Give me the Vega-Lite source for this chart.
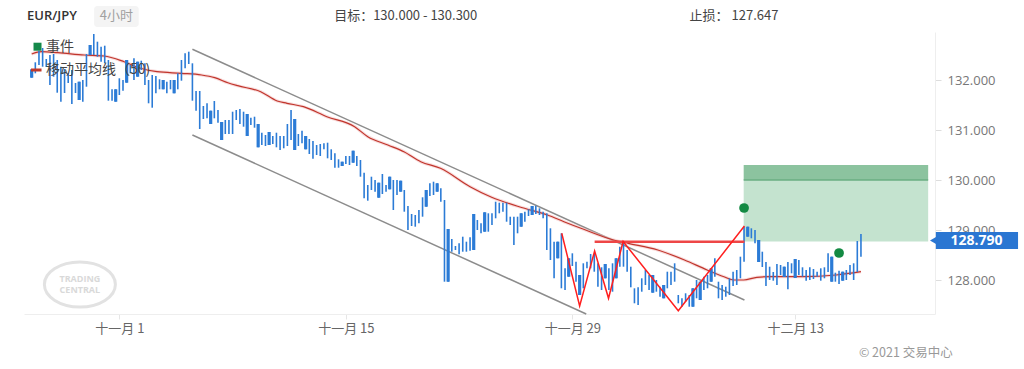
{
"$schema":"https://vega.github.io/schema/vega-lite/v6.json",
"width":911,"height":282,
"autosize":{"type":"none"},
"padding":{"left":24,"top":32,"right":89,"bottom":55},
"background":"#ffffff",
"config":{"view":{"stroke":null},"text":{"font":"Noto Sans CJK SC"}},
"data":{"values":[{}]},
"datasets":{
"bars":[
{"i":0,"h":132.214,"l":132.046,"o":132.214,"c":132.046},{"i":1,"h":132.354,"l":132.134},{"i":2,"h":132.586,"l":132.3},{"i":3,"h":132.64,"l":132.266},{"i":4,"h":132.42,"l":132.26},{"i":5,"h":132.5,"l":131.9},{"i":6,"h":132.52,"l":132.066},{"i":7,"h":132.4,"l":131.746},{"i":8,"h":132.266,"l":131.566},{"i":9,"h":132.22,"l":131.74},
{"i":10,"h":132.14,"l":131.94},{"i":11,"h":132.2,"l":131.52},{"i":12,"h":131.94,"l":131.74},{"i":13,"h":131.966,"l":131.6,"o":131.966,"c":131.6},{"i":14,"h":132.0,"l":131.566},{"i":15,"h":132.52,"l":131.866},{"i":16,"h":132.7,"l":132.5,"o":132.5,"c":132.7},{"i":17,"h":132.92,"l":132.5},{"i":18,"h":132.766,"l":132.466},{"i":19,"h":132.666,"l":132.366},
{"i":20,"h":132.686,"l":132.334},{"i":21,"h":132.4,"l":131.586},{"i":22,"h":131.814,"l":131.586},{"i":23,"h":131.814,"l":131.566,"o":131.566,"c":131.814},{"i":24,"h":132.034,"l":131.7},{"i":25,"h":132.0,"l":131.786},{"i":26,"h":132.4,"l":131.946,"o":131.946,"c":132.4},{"i":27,"h":132.3,"l":132.134},{"i":28,"h":132.434,"l":132.0},{"i":29,"h":132.366,"l":132.066,"o":132.366,"c":132.066},
{"i":30,"h":132.386,"l":132.2},{"i":31,"h":132.334,"l":131.9},{"i":32,"h":132.0,"l":131.534},{"i":33,"h":132.1,"l":131.446},{"i":34,"h":132.08,"l":131.734},{"i":35,"h":132.014,"l":131.814},{"i":36,"h":132.0,"l":131.814,"o":132.0,"c":131.814},{"i":37,"h":131.966,"l":131.734},{"i":38,"h":132.0,"l":131.814},{"i":39,"h":132.0,"l":131.734,"o":131.734,"c":132.0},
{"i":40,"h":132.134,"l":131.814},{"i":41,"h":132.4,"l":131.986},{"i":42,"h":132.534,"l":132.234},{"i":43,"h":132.566,"l":132.32},{"i":44,"h":132.334,"l":131.586},{"i":45,"h":131.78,"l":131.386},{"i":46,"h":131.78,"l":131.02},{"i":47,"h":131.48,"l":131.22},{"i":48,"h":131.534,"l":131.234},{"i":49,"h":131.386,"l":131.12,"o":131.386,"c":131.12},
{"i":50,"h":131.58,"l":131.234},{"i":51,"h":131.4,"l":131.146},{"i":52,"h":131.16,"l":130.8,"o":131.16,"c":130.8},{"i":53,"h":131.2,"l":130.92},{"i":54,"h":131.2,"l":130.92},{"i":55,"h":131.366,"l":130.92},{"i":56,"h":131.4,"l":131.2},{"i":57,"h":131.42,"l":131.12},{"i":58,"h":131.366,"l":131.066},{"i":59,"h":131.32,"l":130.88,"o":131.32,"c":130.88},
{"i":60,"h":131.246,"l":131.1},{"i":61,"h":131.266,"l":131.046},{"i":62,"h":131.12,"l":130.654,"o":131.12,"c":130.654},{"i":63,"h":130.946,"l":130.7},{"i":64,"h":130.9,"l":130.68},{"i":65,"h":130.96,"l":130.7,"o":130.7,"c":130.96},{"i":66,"h":130.88,"l":130.72},{"i":67,"h":130.946,"l":130.654},{"i":68,"h":130.88,"l":130.6},{"i":69,"h":130.88,"l":130.634},
{"i":70,"h":131.12,"l":130.68},{"i":71,"h":131.4,"l":130.8},{"i":72,"h":131.22,"l":130.6,"o":131.22,"c":130.6},{"i":73,"h":130.92,"l":130.68},{"i":74,"h":130.986,"l":130.734},{"i":75,"h":130.88,"l":130.614,"o":130.88,"c":130.614},{"i":76,"h":130.82,"l":130.52},{"i":77,"h":130.78,"l":130.426},{"i":78,"h":130.7,"l":130.5},{"i":79,"h":130.72,"l":130.48},
{"i":80,"h":130.734,"l":130.614},{"i":81,"h":130.746,"l":130.434},{"i":82,"h":130.614,"l":130.4},{"i":83,"h":130.534,"l":130.246},{"i":84,"h":130.414,"l":130.246},{"i":85,"h":130.366,"l":130.28,"o":130.366,"c":130.28},{"i":86,"h":130.48,"l":130.32},{"i":87,"h":130.48,"l":130.3},{"i":88,"h":130.586,"l":130.346,"o":130.346,"c":130.586},{"i":89,"h":130.48,"l":130.28},
{"i":90,"h":130.4,"l":130.066},{"i":91,"h":130.146,"l":129.634},{"i":92,"h":129.9,"l":129.586},{"i":93,"h":130.066,"l":129.8},{"i":94,"h":130.0,"l":129.766},{"i":95,"h":129.946,"l":129.646,"o":129.946,"c":129.646},{"i":96,"h":130.12,"l":129.72},{"i":97,"h":129.9,"l":129.766},{"i":98,"h":130.066,"l":129.814,"o":129.814,"c":130.066},{"i":99,"h":130.0,"l":129.4},
{"i":100,"h":130.0,"l":129.7},{"i":101,"h":129.986,"l":129.766,"o":129.986,"c":129.766},{"i":102,"h":129.8,"l":129.366},{"i":103,"h":129.48,"l":129.0},{"i":104,"h":129.32,"l":129.08},{"i":105,"h":129.3,"l":129.066},{"i":106,"h":129.4,"l":129.134},{"i":107,"h":129.654,"l":129.266},{"i":108,"h":129.8,"l":129.466,"o":129.466,"c":129.8},{"i":109,"h":129.934,"l":129.68},
{"i":110,"h":129.966,"l":129.7},{"i":111,"h":129.934,"l":129.766,"o":129.934,"c":129.766},{"i":112,"h":129.834,"l":129.566},{"i":113,"h":129.6,"l":127.966},{"i":114,"h":129.02,"l":127.966,"o":127.966,"c":129.02},{"i":115,"h":128.82,"l":128.566},{"i":116,"h":128.68,"l":128.6},{"i":117,"h":128.734,"l":128.514},{"i":118,"h":128.866,"l":128.566},{"i":119,"h":128.766,"l":128.566},
{"i":120,"h":128.854,"l":128.586},{"i":121,"h":129.32,"l":128.6,"o":128.6,"c":129.32},{"i":122,"h":129.2,"l":129.0},{"i":123,"h":129.134,"l":128.934},{"i":124,"h":129.354,"l":128.966,"o":128.966,"c":129.354},{"i":125,"h":129.334,"l":128.966},{"i":126,"h":129.334,"l":129.1},{"i":127,"h":129.566,"l":129.234},{"i":128,"h":129.546,"l":129.334},{"i":129,"h":129.546,"l":129.366},
{"i":130,"h":129.546,"l":129.166},{"i":131,"h":129.266,"l":129.1},{"i":132,"h":129.266,"l":128.7},{"i":133,"h":129.266,"l":128.934},{"i":134,"h":129.334,"l":129.066,"o":129.066,"c":129.334},{"i":135,"h":129.366,"l":129.166},{"i":136,"h":129.414,"l":129.28},{"i":137,"h":129.48,"l":129.3,"o":129.3,"c":129.48},{"i":138,"h":129.486,"l":129.32},{"i":139,"h":129.434,"l":129.3},
{"i":140,"h":129.366,"l":129.234},{"i":141,"h":129.334,"l":128.6},{"i":142,"h":129.034,"l":128.4},{"i":143,"h":128.766,"l":128.034},{"i":144,"h":128.766,"l":128.434,"o":128.434,"c":128.766},{"i":145,"h":128.934,"l":127.834},{"i":146,"h":128.234,"l":127.8},{"i":147,"h":128.434,"l":128.066,"o":128.066,"c":128.434},{"i":148,"h":128.534,"l":128.28},{"i":149,"h":128.366,"l":127.966},
{"i":150,"h":128.1,"l":127.7,"o":128.1,"c":127.7},{"i":151,"h":128.334,"l":127.834},{"i":152,"h":128.366,"l":128.234},{"i":153,"h":128.52,"l":128.234},{"i":154,"h":128.52,"l":128.166},{"i":155,"h":128.334,"l":127.866},{"i":156,"h":128.254,"l":127.8},{"i":157,"h":128.32,"l":128.034,"o":128.034,"c":128.32},{"i":158,"h":128.234,"l":127.8},{"i":159,"h":128.334,"l":127.766},
{"i":160,"h":128.434,"l":128.034,"o":128.034,"c":128.434},{"i":161,"h":128.666,"l":128.266},{"i":162,"h":128.766,"l":128.266},{"i":163,"h":128.6,"l":128.166},{"i":164,"h":128.266,"l":127.854},{"i":165,"h":127.834,"l":127.534},{"i":166,"h":127.854,"l":127.5},{"i":167,"h":128.034,"l":127.766},{"i":168,"h":128.2,"l":127.9},{"i":169,"h":128.1,"l":127.8},
{"i":170,"h":128.1,"l":127.746,"o":128.1,"c":127.746},{"i":171,"h":128.0,"l":127.766},{"i":172,"h":127.866,"l":127.666},{"i":173,"h":127.9,"l":127.634,"o":127.9,"c":127.634},{"i":174,"h":128.166,"l":127.834},{"i":175,"h":128.166,"l":127.9},{"i":176,"h":128.334,"l":127.966},{"i":177,"h":127.7,"l":127.534},{"i":178,"h":127.634,"l":127.466},{"i":179,"h":127.734,"l":127.566},
{"i":180,"h":127.7,"l":127.466},{"i":181,"h":127.834,"l":127.466,"o":127.466,"c":127.834},{"i":182,"h":128.0,"l":127.634},{"i":183,"h":127.966,"l":127.6,"o":127.6,"c":127.966},{"i":184,"h":128.066,"l":127.8},{"i":185,"h":128.1,"l":127.834},{"i":186,"h":128.234,"l":127.966,"o":127.966,"c":128.234},{"i":187,"h":128.434,"l":128.066},{"i":188,"h":127.966,"l":127.634},{"i":189,"h":127.9,"l":127.6},
{"i":190,"h":127.866,"l":127.666},{"i":191,"h":128.034,"l":127.7},{"i":192,"h":128.166,"l":127.88},{"i":193,"h":128.2,"l":127.9},{"i":194,"h":128.466,"l":128.034},{"i":195,"h":129.066,"l":128.366},{"i":196,"h":129.066,"l":128.866,"o":129.066,"c":128.866},{"i":197,"h":129.034,"l":128.834},{"i":198,"h":129.0,"l":128.734},{"i":199,"h":128.8,"l":128.36,"o":128.8,"c":128.36},
{"i":200,"h":128.566,"l":128.26},{"i":201,"h":128.36,"l":127.88},{"i":202,"h":128.266,"l":128.0},{"i":203,"h":128.16,"l":127.986},{"i":204,"h":128.32,"l":127.9},{"i":205,"h":128.3,"l":128.1},{"i":206,"h":128.266,"l":128.06,"o":128.266,"c":128.06},{"i":207,"h":128.36,"l":127.814},{"i":208,"h":128.334,"l":128.134},{"i":209,"h":128.42,"l":128.04,"o":128.04,"c":128.42},
{"i":210,"h":128.4,"l":128.1},{"i":211,"h":128.254,"l":128.066},{"i":212,"h":128.2,"l":127.986},{"i":213,"h":128.254,"l":128.0},{"i":214,"h":128.22,"l":128.02},{"i":215,"h":128.166,"l":128.066},{"i":216,"h":128.234,"l":127.986},{"i":217,"h":128.254,"l":128.034},{"i":218,"h":128.534,"l":128.16},{"i":219,"h":128.466,"l":127.966,"o":128.466,"c":127.966},
{"i":220,"h":128.146,"l":127.966},{"i":221,"h":128.186,"l":127.92},{"i":222,"h":128.166,"l":127.986,"o":127.986,"c":128.166},{"i":223,"h":128.2,"l":128.0},{"i":224,"h":128.3,"l":128.1},{"i":225,"h":128.334,"l":128.0},{"i":226,"h":128.78,"l":128.16},{"i":227,"h":128.92,"l":128.466}
],
"ma":[
{"i":0,"p":132.52},{"i":2.7,"p":132.566},{"i":7.2,"p":132.546},{"i":14.4,"p":132.5},{"i":19.8,"p":132.48},{"i":25.3,"p":132.366},{"i":29.8,"p":132.234},{"i":34.3,"p":132.166},{"i":41.0,"p":132.134},{"i":46.5,"p":132.1},{"i":50.1,"p":132.046},{"i":53.7,"p":131.946},{"i":56.4,"p":131.886},{"i":62.7,"p":131.766},{"i":67.2,"p":131.58},{"i":69.9,"p":131.534},{"i":74.4,"p":131.466},{"i":80.8,"p":131.266},{"i":88.4,"p":131.066},{"i":92.0,"p":130.866},{"i":97.5,"p":130.7},{"i":101.9,"p":130.566},{"i":106.5,"p":130.366},{"i":111.9,"p":130.234},{"i":120.0,"p":129.866},{"i":125.9,"p":129.654},{"i":134.9,"p":129.434},{"i":141.2,"p":129.3},{"i":145.7,"p":129.166},{"i":151.1,"p":129.014},{"i":159.3,"p":128.8},{"i":163.3,"p":128.734},{"i":171.4,"p":128.6},{"i":178.7,"p":128.4},{"i":184.9,"p":128.2},{"i":189.5,"p":128.066},{"i":192.2,"p":128.0},{"i":194.9,"p":128.0},{"i":198.5,"p":128.054},{"i":202.1,"p":128.066},{"i":211.2,"p":128.066},{"i":220.2,"p":128.1},{"i":227.0,"p":128.166}
],
"zig":[{"i":145.1,"p":128.934},{"i":150.0,"p":127.48},{"i":154.1,"p":128.58},{"i":157.9,"p":127.634},{"i":161.9,"p":128.77},{"i":177.0,"p":127.384},{"i":195.1,"p":129.08}],
"chan":[{"k":"upper","i":44.0,"p":132.614},{"k":"upper","i":195.1,"p":127.6},{"k":"lower","i":44.0,"p":130.9},{"k":"lower","i":151.8,"p":127.32}],
"events":[{"i":195.0,"p":129.44},{"i":221.0,"p":128.54}]
},
"layer":[
{"mark":{"type":"rect","color":"#c4e3cf"},
 "encoding":{"x":{"datum":194.9,"type":"quantitative","scale":{"domain":[-0.73,245.9],"nice":false,"zero":false},
   "axis":{"orient":"bottom","values":[24,86,148,209],"labelExpr":"datum.value < 50 ? '十一月 1' : datum.value < 120 ? '十一月 15' : datum.value < 180 ? '十一月 29' : '十二月 13'","grid":false,"domainColor":"#eeeeee","tickColor":"#e6e6e6","tickSize":5,"labelPadding":3,"labelColor":"#666666","labelFont":"Noto Sans CJK SC","labelFontSize":13,"title":null}},
  "x2":{"datum":245.4},
  "y":{"datum":128.77,"type":"quantitative","scale":{"domain":[127.32,132.96],"nice":false,"zero":false},
   "axis":{"orient":"right","values":[128,129,130,131,132],"format":".3f","grid":false,"domainColor":"#eeeeee","tickColor":"#dddddd","tickSize":6,"labelPadding":6,"labelColor":"#777777","labelFont":"Open Sans","labelFontSize":13,"title":null}},
  "y2":{"datum":130.0}}},
{"mark":{"type":"rect","color":"#8cc39f"},
 "encoding":{"x":{"datum":194.9,"type":"quantitative"},"x2":{"datum":245.4},"y":{"datum":130.0,"type":"quantitative"},"y2":{"datum":130.3}}},
{"mark":{"type":"rule","color":"#6aae82","strokeWidth":1.5},
 "encoding":{"x":{"datum":194.9,"type":"quantitative"},"x2":{"datum":245.4},"y":{"datum":130.0,"type":"quantitative"}}},
{"data":{"name":"chan"},"mark":{"type":"line","color":"#8c8c8c","strokeWidth":1.5},
 "encoding":{"x":{"field":"i","type":"quantitative","title":null},"y":{"field":"p","type":"quantitative","title":null},"detail":{"field":"k"}}},
{"data":{"name":"ma"},"mark":{"type":"line","color":"#f2b8b8","strokeWidth":3.2,"opacity":0.5,"interpolate":"monotone"},
 "encoding":{"x":{"field":"i","type":"quantitative","title":null},"y":{"field":"p","type":"quantitative","title":null}}},
{"data":{"name":"ma"},"mark":{"type":"line","color":"#c0352c","strokeWidth":1.2,"interpolate":"monotone"},
 "encoding":{"x":{"field":"i","type":"quantitative","title":null},"y":{"field":"p","type":"quantitative","title":null}}},
{"data":{"name":"bars"},"mark":{"type":"rule","color":"#2b7bd6","strokeWidth":1.6},
 "encoding":{"x":{"field":"i","type":"quantitative","title":null},"y":{"field":"l","type":"quantitative","title":null},"y2":{"field":"h"}}},
{"data":{"name":"bars"},"mark":{"type":"bar","color":"#2b7bd6","size":3.2},
 "encoding":{"x":{"field":"i","type":"quantitative","title":null},"y":{"field":"o","type":"quantitative","title":null},"y2":{"field":"c"}}},
{"mark":{"type":"rule","color":"#ee4646","strokeWidth":2.5},
 "encoding":{"x":{"datum":154.1,"type":"quantitative"},"x2":{"datum":195.1},"y":{"datum":128.766,"type":"quantitative"}}},
{"data":{"name":"zig"},"mark":{"type":"line","color":"#ff1f1f","strokeWidth":1.5},
 "encoding":{"x":{"field":"i","type":"quantitative","title":null},"y":{"field":"p","type":"quantitative","title":null}}},
{"data":{"name":"events"},"mark":{"type":"point","filled":true,"color":"#138a43","size":95,"opacity":1},
 "encoding":{"x":{"field":"i","type":"quantitative","title":null},"y":{"field":"p","type":"quantitative","title":null}}},
{"mark":{"type":"point","shape":"M-1,0A1,0.634,0,1,1,1,0A1,0.634,0,1,1,-1,0Z","filled":false,"stroke":"#e2e2e2","strokeWidth":3,"size":5041,"opacity":1},
 "encoding":{"x":{"datum":13.2,"type":"quantitative"},"y":{"datum":127.91,"type":"quantitative"}}},
{"mark":{"type":"text","text":"TRADING","font":"Open Sans","fontWeight":"bold","fontSize":9,"color":"#d9d9d9"},
 "encoding":{"x":{"datum":13.2,"type":"quantitative"},"y":{"datum":128.02,"type":"quantitative"}}},
{"mark":{"type":"text","text":"CENTRAL","font":"Open Sans","fontWeight":"bold","fontSize":9,"color":"#d9d9d9"},
 "encoding":{"x":{"datum":13.2,"type":"quantitative"},"y":{"datum":127.8,"type":"quantitative"}}},
{"mark":{"type":"point","shape":"square","filled":true,"color":"#15894a","size":64,"opacity":1},
 "encoding":{"x":{"datum":1.6,"type":"quantitative"},"y":{"datum":132.666,"type":"quantitative"}}},
{"mark":{"type":"text","text":"事件","align":"left","fontSize":14,"color":"#444444"},
 "encoding":{"x":{"datum":3.9,"type":"quantitative"},"y":{"datum":132.66,"type":"quantitative"}}},
{"mark":{"type":"rule","color":"#c0392b","strokeWidth":3},
 "encoding":{"x":{"datum":-0.19,"type":"quantitative"},"x2":{"datum":2.7},"y":{"datum":132.2,"type":"quantitative"}}},
{"mark":{"type":"text","text":"移动平均线（50)","align":"left","fontSize":14,"color":"#444444"},
 "encoding":{"x":{"datum":3.9,"type":"quantitative"},"y":{"datum":132.2,"type":"quantitative"}}},
{"mark":{"type":"text","text":"EUR/JPY","align":"left","font":"Open Sans","fontWeight":600,"fontSize":13,"color":"#333333"},
 "encoding":{"x":{"datum":-1.27,"type":"quantitative"},"y":{"datum":133.28,"type":"quantitative"}}},
{"mark":{"type":"rect","color":"#f4f4f4","cornerRadius":3},
 "encoding":{"x":{"datum":17.1,"type":"quantitative"},"x2":{"datum":29.3},"y":{"datum":133.06,"type":"quantitative"},"y2":{"datum":133.48}}},
{"mark":{"type":"text","text":"4小时","align":"center","fontSize":13,"color":"#a0a0a0"},
 "encoding":{"x":{"datum":23.2,"type":"quantitative"},"y":{"datum":133.28,"type":"quantitative"}}},
{"mark":{"type":"text","text":"目标：130.000 - 130.300","align":"left","fontSize":13,"color":"#444444"},
 "encoding":{"x":{"datum":82.8,"type":"quantitative"},"y":{"datum":133.28,"type":"quantitative"}}},
{"mark":{"type":"text","text":"止损： 127.647","align":"left","fontSize":13,"color":"#444444"},
 "encoding":{"x":{"datum":180.1,"type":"quantitative"},"y":{"datum":133.28,"type":"quantitative"}}},
{"mark":{"type":"rect","color":"#2a76d2"},
 "encoding":{"x":{"datum":247.5,"type":"quantitative"},"x2":{"datum":270.0},"y":{"datum":128.62,"type":"quantitative"},"y2":{"datum":128.96}}},
{"mark":{"type":"point","shape":"triangle-left","filled":true,"color":"#2a76d2","size":70,"opacity":1},
 "encoding":{"x":{"datum":246.9,"type":"quantitative"},"y":{"datum":128.79,"type":"quantitative"}}},
{"mark":{"type":"text","text":"128.790","align":"center","font":"Open Sans","fontWeight":"bold","fontSize":14,"color":"#ffffff"},
 "encoding":{"x":{"datum":258.6,"type":"quantitative"},"y":{"datum":128.79,"type":"quantitative"}}},
{"mark":{"type":"text","text":"© 2021 交易中心","align":"right","fontSize":12.5,"color":"#999999"},
 "encoding":{"x":{"datum":252.1,"type":"quantitative"},"y":{"datum":126.54,"type":"quantitative"}}}
]
}
